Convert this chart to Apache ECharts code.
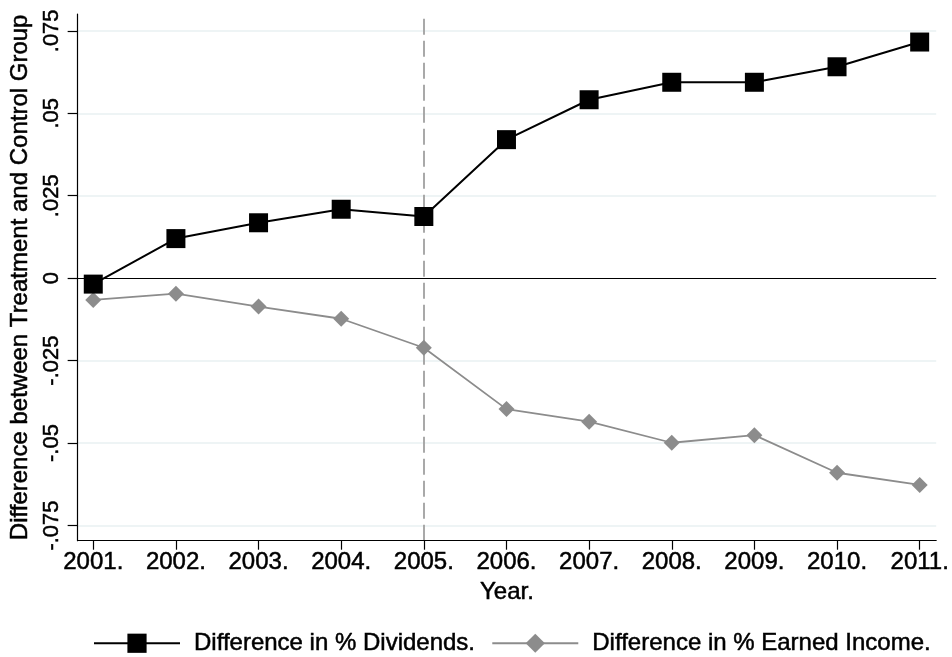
<!DOCTYPE html>
<html>
<head>
<meta charset="utf-8">
<script src="https://cdn.jsdelivr.net/npm/echarts@6/dist/echarts.min.js"></script>
<style>html,body{margin:0;padding:0;background:#fff}#c{width:952px;height:657px}</style>
</head>
<body>
<div id="c"></div>
<script>
const years = [2001, 2002, 2003, 2004, 2005, 2006, 2007, 2008, 2009, 2010, 2011];
const xTickLabels = ['2001.', '2002.', '2003.', '2004.', '2005.', '2006.', '2007.', '2008.', '2009.', '2010.', '2011.'];
const dividends = [-0.0018, 0.0120, 0.0168, 0.0209, 0.0187, 0.0420, 0.0541, 0.0594, 0.0594, 0.0641, 0.0716];
const earnedIncome = [-0.0066, -0.0047, -0.0086, -0.0123, -0.0211, -0.0397, -0.0435, -0.0499, -0.0476, -0.0590, -0.0627];
const yTicks = [-0.075, -0.05, -0.025, 0, 0.025, 0.05, 0.075];
const yTickLabels = ['-.075', '-.05', '-.025', '0', '.025', '.05', '.075'];
const gridLineValues = [-0.075, -0.05, -0.025, 0.025, 0.05, 0.075];
const zeroLine = 0;
const eventYear = 2005;
const seriesNames = ['Difference in % Dividends.', 'Difference in % Earned Income.'];

const FONT = 'Liberation Sans, Arial, sans-serif';
const heavy = {textBorderColor: '#000', textBorderWidth: 0.5};
const chart = echarts.init(document.getElementById('c'), null, {renderer: 'canvas'});

const pts = arr => years.map((y, i) => [y, arr[i]]);

chart.setOption({
  animation: false,
  backgroundColor: '#ffffff',
  textStyle: {fontFamily: FONT, color: '#000'},
  grid: {left: 74.3, right: 15.3, top: 14, bottom: 116.3, containLabel: false},
  xAxis: {
    type: 'value', min: 2000.811, max: 2011.2,
    name: 'Year.', nameLocation: 'middle', nameGap: 38,
    nameTextStyle: Object.assign({fontFamily: FONT, fontSize: 24, color: '#000'}, heavy),
    axisLine: {show: true, onZero: false, lineStyle: {color: '#000', width: 1.2}},
    axisTick: {show: true, length: 9, customValues: years, lineStyle: {color: '#000', width: 1.2}},
    axisLabel: Object.assign({
      customValues: years, margin: 10, fontFamily: FONT, fontSize: 24, color: '#000',
      formatter: v => { const i = years.indexOf(Math.round(v)); return i >= 0 ? xTickLabels[i] : ''; }
    }, heavy),
    splitLine: {show: false},
    minorSplitLine: {show: false},
    splitArea: {show: false}
  },
  yAxis: {
    type: 'value', min: -0.0796, max: 0.0801,
    name: 'Difference between Treatment and Control Group', nameLocation: 'middle', nameGap: 40, nameRotate: 90,
    nameTextStyle: Object.assign({fontFamily: FONT, fontSize: 24, color: '#000'}, heavy),
    axisLine: {show: true, onZero: false, lineStyle: {color: '#000', width: 1.2}},
    axisTick: {show: true, length: 10, customValues: yTicks, lineStyle: {color: '#000', width: 1.2}},
    axisLabel: Object.assign({
      customValues: yTicks, rotate: 90, margin: 15, fontFamily: FONT, fontSize: 22, color: '#000',
      formatter: v => { const i = yTicks.findIndex(t => Math.abs(t - v) < 1e-6); return i >= 0 ? yTickLabels[i] : ''; }
    }, heavy),
    splitLine: {show: false},
    minorSplitLine: {show: false},
    splitArea: {show: false}
  },
  legend: {
    data: seriesNames,
    left: 93, top: 631, padding: 0,
    itemWidth: 86, itemHeight: 24, itemGap: 16,
    textStyle: Object.assign({fontFamily: FONT, fontSize: 24, color: '#000', padding: [0, 0, 0, 9]}, heavy)
  },
  series: [
    {
      name: 'guides', type: 'line', z: 1, data: [],
      symbol: 'none', silent: true, legendHoverLink: false,
      markLine: {
        silent: true, symbol: 'none', label: {show: false}, animation: false, z: 0, precision: 4,
        data: [
          ...gridLineValues.map(v => ({yAxis: v, lineStyle: {color: '#e8f0f2', width: 1.6, type: 'solid'}})),
          {yAxis: zeroLine, lineStyle: {color: '#000', width: 1.2, type: 'solid'}},
          {xAxis: eventYear, lineStyle: {color: '#a0a0a0', width: 1.8, type: [16, 6]}}
        ]
      }
    },
    {
      name: seriesNames[0], type: 'line', z: 3, data: pts(dividends),
      symbol: 'rect', symbolSize: 19,
      itemStyle: {color: '#000'}, lineStyle: {color: '#000', width: 2}
    },
    {
      name: seriesNames[1], type: 'line', z: 2, data: pts(earnedIncome),
      symbol: 'diamond', symbolSize: 16,
      itemStyle: {color: '#8c8c8c'}, lineStyle: {color: '#8c8c8c', width: 1.8}
    }
  ]
});
</script>
</body>
</html>
